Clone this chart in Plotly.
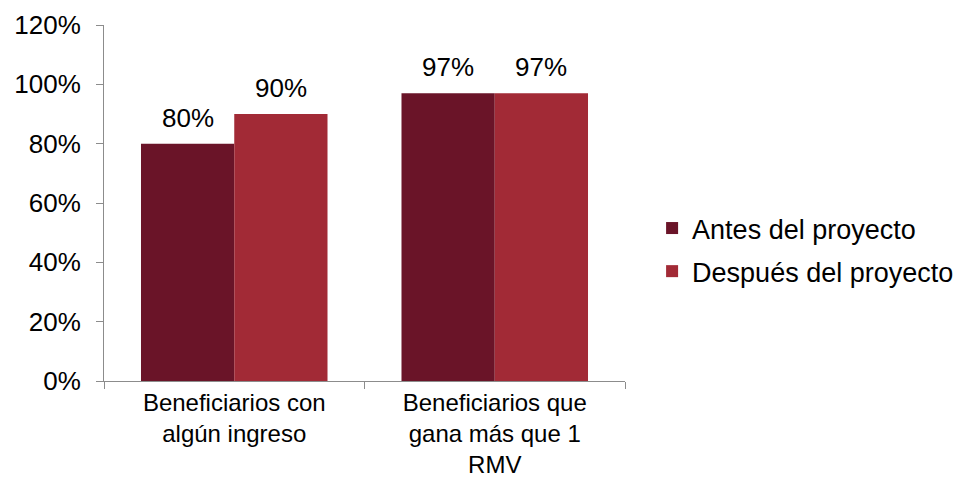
import plotly.graph_objects as go

# Categories, series and values
categories = [
    "Beneficiarios con<br>algún ingreso",
    "Beneficiarios que<br>gana más que 1<br>RMV",
]
series_names = ["Antes del proyecto", "Después del proyecto"]
antes = [0.80, 0.97]
despues = [0.90, 0.97]
series_values = [antes, despues]
colors = ["#6A1428", "#A22A36"]

y_tickvals = [0, 0.2, 0.4, 0.6, 0.8, 1.0, 1.2]
y_ticktext = ["0%", "20%", "40%", "60%", "80%", "100%", "120%"]

FONT = "Liberation Sans, Arial, sans-serif"
BARGAP = 0.284

fig = go.Figure()
for i, (name, vals, col) in enumerate(zip(series_names, series_values, colors)):
    fig.add_trace(go.Bar(
        x=categories,
        y=vals,
        name=name,
        marker=dict(color=col, line=dict(width=0)),
        legendgroup=f"g{i}",
    ))

# Value labels above each bar, centered on the grouped bar positions
n_series = len(series_names)
bar_w = (1 - BARGAP) / n_series
annotations = []
for s, vals in enumerate(series_values):
    offset = -0.5 * (1 - BARGAP) + bar_w * (s + 0.5)
    for c, v in enumerate(vals):
        annotations.append(dict(
            x=c + offset, y=v, xref="x", yref="y",
            text=f"{v * 100:.0f}%",
            showarrow=False, yanchor="bottom", yshift=9,
            font=dict(family=FONT, size=26, color="#000000"),
        ))

fig.update_layout(
    width=965, height=479,
    margin=dict(l=104, r=340, t=25, b=98, autoexpand=False),
    paper_bgcolor="white", plot_bgcolor="white",
    barmode="group", bargap=BARGAP, bargroupgap=0,
    font=dict(family=FONT, size=26, color="#000000"),
    showlegend=True,
    legend=dict(
        x=1.052, y=0.368, xanchor="left", yanchor="middle",
        font=dict(family=FONT, size=27, color="#000000"),
        tracegroupgap=5, bgcolor="rgba(0,0,0,0)",
    ),
    annotations=annotations,
)
fig.update_xaxes(
    type="category", tickson="boundaries", ticks="outside", ticklen=7,
    tickcolor="#8C8C8C", showline=True, linecolor="#8C8C8C", linewidth=1,
    showgrid=False, zeroline=False, automargin=False,
    tickfont=dict(family=FONT, size=24, color="#000000"),
)
fig.update_yaxes(
    range=[0, 1.2], tickvals=y_tickvals, ticktext=y_ticktext,
    ticks="outside", ticklen=7, tickcolor="#8C8C8C",
    showline=True, linecolor="#8C8C8C", linewidth=1,
    showgrid=False, zeroline=False, ticklabelstandoff=10, automargin=False,
    tickfont=dict(family=FONT, size=26, color="#000000"),
)

fig.write_html("out.html")
